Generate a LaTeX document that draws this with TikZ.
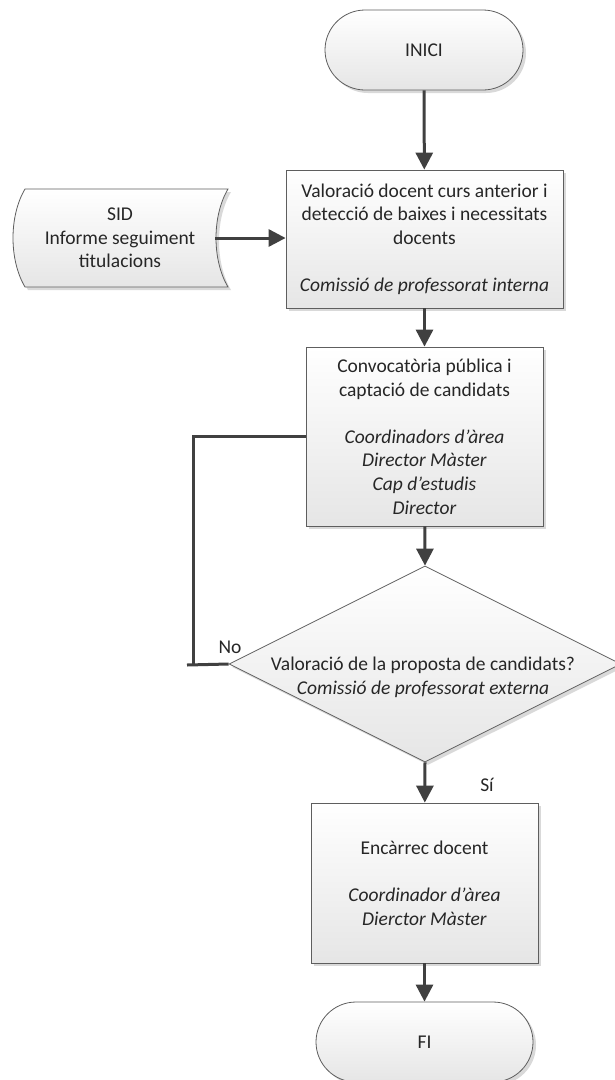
\documentclass[tikz,border=0pt]{standalone}
\usepackage{fontspec}
\setmainfont{Carlito}
\usetikzlibrary{shapes.geometric,shadows,arrows.meta}
\definecolor{conncol}{HTML}{404040}
\definecolor{edgecol}{HTML}{5E5E5E}
\definecolor{txtcol}{HTML}{262626}
\begin{document}
\begin{tikzpicture}[x=1pt,y=-1pt,
  shapebase/.style={draw=edgecol, line width=0.8pt, top color=white, bottom color=gray!20,
    drop shadow={shadow xshift=3pt,shadow yshift=-3pt,fill=black,opacity=0.15}},
  txtstyle/.style={text=txtcol, font=\fontsize{19.5}{23.6}\selectfont, align=center, inner sep=0pt},
  procbox/.style={shapebase, txtstyle, rectangle},
  termbox/.style={shapebase, txtstyle, rectangle, rounded corners=40pt, minimum height=80pt},
  decbox/.style={shapebase, diamond, inner sep=0pt},
  connline/.style={draw=conncol, line width=3pt},
  arr/.style={connline, -{Triangle[length=17pt,width=17pt]}},
]
\useasboundingbox (0,0) rectangle (615,1080);

% start
\node[termbox, minimum width=198pt] (inici) at (424,50) {INICI};

% process 1
\node[procbox, minimum width=277pt, minimum height=138pt] (box1) at (424.5,239)
  {Valoració docent curs anterior i\\detecció de baixes i necessitats\\docents\\[23.6pt]\textit{Comissió de professorat interna}};

% stored data (SID)
\path[shapebase] (25,189) -- (228,189) .. controls (212,216) and (212,260) .. (228,287)
  -- (25,287) .. controls (9,260) and (9,216) .. (25,189) -- cycle;
\node[txtstyle] (sid) at (120,238) {SID\\Informe seguiment\\titulacions};
\coordinate (sidR) at (215,238);

% process 2
\node[procbox, minimum width=237pt, minimum height=179pt] (box2) at (424.5,436.5)
  {Convocatòria pública i\\captació de candidats\\[23.6pt]\textit{Coordinadors d’àrea}\\\textit{Director Màster}\\\textit{Cap d’estudis}\\\textit{Director}};

% decision
\node[decbox, minimum width=392pt, minimum height=196pt] (dia) at (425,664) {};
\node[txtstyle] (diatext) at (423,677)
  {Valoració de la proposta de candidats?\\\textit{Comissió de professorat externa}};

% process 3
\node[procbox, minimum width=227pt, minimum height=160pt] (box3) at (424.5,883)
  {Encàrrec docent\\[23.6pt]\textit{Coordinador d’àrea}\\\textit{Dierctor Màster}};

% end
\node[termbox, minimum width=217pt] (fi) at (424.5,1042) {FI};

% labels
\node[txtstyle] (nolab) at (230,647) {No};
\node[txtstyle] (silab) at (487,785) {Sí};

% connectors
\draw[arr] (inici) -- (box1);
\draw[arr] (sidR) -- (box1.west |- sidR);
\draw[arr] (box1) -- (box2);
\draw[arr] (box2) -- (dia.north);
\draw[arr] (dia.south) -- (box3);
\draw[arr] (box3) -- (fi);

\coordinate (fbcorner) at (193,665);
\coordinate (fbend) at (187,665);
\draw[connline] (box2.west) -| (fbcorner);
\draw[connline] (dia.west) -- (fbend);
\end{tikzpicture}
\end{document}
